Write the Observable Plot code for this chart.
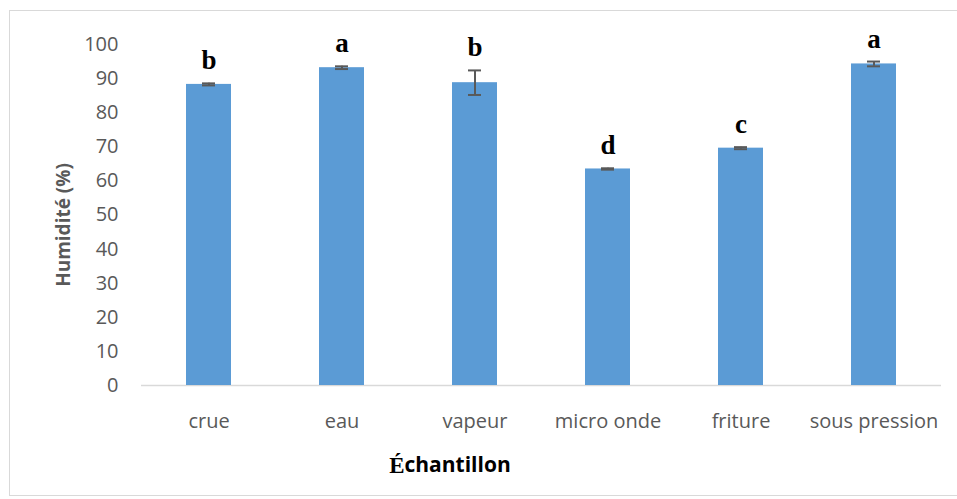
<!DOCTYPE html>
<html>
<head>
<meta charset="utf-8">
<script src="https://cdn.jsdelivr.net/npm/d3@7"></script>
<script src="https://cdn.jsdelivr.net/npm/@observablehq/plot@0.6"></script>
<style>
  body { margin: 0; background: #fff; }
  #wrap { position: relative; width: 957px; height: 499px; overflow: hidden; }
  #border { position: absolute; left: 9px; top: 10px; width: 960px; height: 484px; border: 1px solid #d9d9d9; pointer-events: none; }
</style>
</head>
<body>
<div id="wrap"><div id="border"></div></div>
<script>
const categories = ["crue", "eau", "vapeur", "micro onde", "friture", "sous pression"];
const humidity = [88.3, 93.2, 88.8, 63.5, 69.6, 94.3];
const errors = [0.3, 0.4, 3.6, 0.2, 0.3, 0.7];
const letters = ["b", "a", "b", "d", "c", "a"];
const yTicks = [0, 10, 20, 30, 40, 50, 60, 70, 80, 90, 100];
const yLabel = "Humidité (%)";
const xLabelFirst = "É";
const xLabelRest = "chantillon";

const data = categories.map((c, i) => ({cat: c, v: humidity[i], e: errors[i], letter: letters[i]}));

const sans = "'Open Sans', Calibri, sans-serif";
const serif = "'Liberation Serif', 'Times New Roman', serif";

const chart = Plot.plot({
  width: 957,
  height: 499,
  marginLeft: 141,
  marginRight: 16,
  marginTop: 44,
  marginBottom: 114,
  style: {fontFamily: sans, fontSize: "20px", color: "#595959", background: "transparent"},
  x: {domain: categories, paddingInner: 0.66, paddingOuter: 0.33, label: null},
  y: {domain: [0, 100], label: null},
  marks: [
    Plot.axisY({ticks: yTicks, tickSize: 0, tickPadding: 23, label: null, fontSize: 20}),
    Plot.axisX({tickSize: 0, tickPadding: 28, label: null, fontSize: 20}),
    Plot.ruleY([0], {stroke: "#d9d9d9", strokeWidth: 1.5}),
    Plot.barY(data, {x: "cat", y: "v", fill: "#5b9bd5"}),
    Plot.ruleX(data, {x: "cat", y1: d => d.v - d.e, y2: d => d.v + d.e, stroke: "#595959", strokeWidth: 2}),
    Plot.tickY(data, {x: "cat", y: d => d.v + d.e, stroke: "#595959", strokeWidth: 2, insetLeft: 16, insetRight: 16}),
    Plot.tickY(data, {x: "cat", y: d => d.v - d.e, stroke: "#595959", strokeWidth: 2, insetLeft: 16, insetRight: 16}),
    Plot.text(data, {x: "cat", y: d => d.v + d.e, text: "letter", dy: -14, lineAnchor: "bottom", fontFamily: serif, fontWeight: "bold", fontSize: 27, fill: "black"}),
    Plot.text([yLabel], {text: d => d, frameAnchor: "left", textAnchor: "middle", lineAnchor: "middle", dx: -78, dy: 10, rotate: -90, fontFamily: sans, fontWeight: "bold", fontSize: 19, fill: "#595959"}),
    Plot.text([xLabelFirst], {text: d => d, frameAnchor: "bottom", lineAnchor: "middle", dx: -137, dy: 80, textAnchor: "end", fontFamily: serif, fontWeight: "bold", fontSize: 23, fill: "black"}),
    Plot.text([xLabelRest], {text: d => d, frameAnchor: "bottom", lineAnchor: "middle", dx: -137, dy: 80, textAnchor: "start", fontFamily: sans, fontWeight: "bold", fontSize: 21, fill: "black"})
  ]
});
document.getElementById("wrap").prepend(chart);
</script>
</body>
</html>
